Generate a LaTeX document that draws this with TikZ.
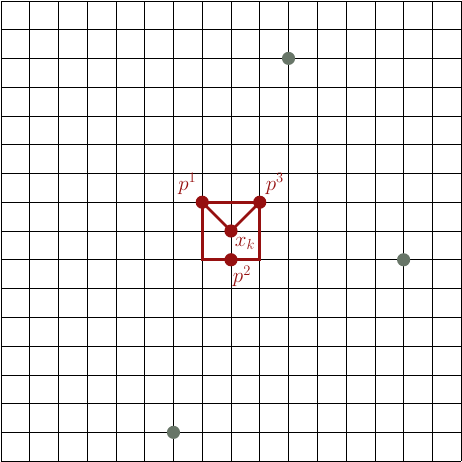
\documentclass[tikz,border=0pt]{standalone}
\usepackage{xcolor}
\definecolor{myred}{RGB}{150,16,16}
\definecolor{mygray}{RGB}{104,118,104}
\begin{document}
\begin{tikzpicture}[
  gridline/.style={line width=0.6pt,black},
  redline/.style={line width=2.8pt,myred},
  reddot/.style={circle,fill=myred,inner sep=0pt,minimum size=13pt},
  graydot/.style={circle,fill=mygray,inner sep=0pt,minimum size=13pt},
  lbl/.style={text=myred,font=\huge,inner sep=0pt}
]
\useasboundingbox (-0.03,-0.03) rectangle (16.03,16.03);
\draw[gridline] (0,0) grid (16,16);
\coordinate (c1) at (7,7);
\coordinate (c2) at (9,7);
\draw[redline] (7,9) -- (c1) -- (c2) -- (9,9) -- cycle;
\draw[redline,line width=2.5pt] (7,9) -- (8,8) -- (9,9);
\node[reddot] (p1) at (7,9) {};
\node[reddot] (p3) at (9,9) {};
\node[reddot] (p2) at (8,7) {};
\node[reddot] (xk) at (8,8) {};
\node[lbl,anchor=south east] at ([xshift=-1pt,yshift=3pt]p1.north west) {$p^1$};
\node[lbl,anchor=south west] at ([xshift=1pt,yshift=3pt]p3.north east) {$p^3$};
\node[lbl,anchor=north west] at ([xshift=-1pt,yshift=-1pt]xk.south east) {$x_k$};
\node[lbl,anchor=north west] at ([xshift=-3pt,yshift=-1pt]p2.south east) {$p^2$};
\node[graydot] (g1) at (10,14) {};
\node[graydot] (g2) at (14,7) {};
\node[graydot] (g3) at (6,1) {};
\end{tikzpicture}
\end{document}
